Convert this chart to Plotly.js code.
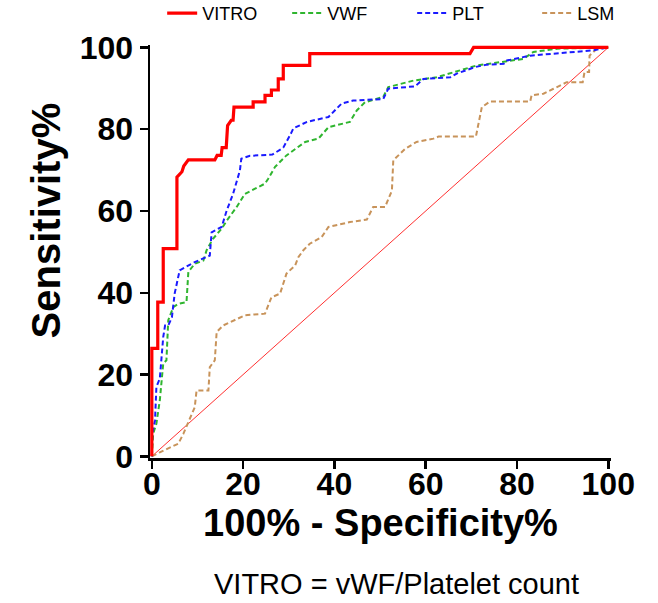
<!DOCTYPE html>
<html>
<head>
<meta charset="utf-8">
<script src="https://cdn.plot.ly/plotly-3.0.1.min.js"></script>
<style>
  html, body { margin: 0; padding: 0; background: #fff; }
  #chart { width: 658px; height: 603px; }
</style>
</head>
<body>
<div id="chart"></div>
<script>
// ROC curves: 100% - Specificity% (x) against Sensitivity% (y)
const vitroX = [0, 0, 1.3, 1.3, 2.5, 2.5, 5.5, 5.5, 6.6, 7.0, 8.0, 13.8, 14.3, 15.2, 15.4, 16.3, 16.6, 17.4, 17.8, 18.0, 22.2, 22.2, 24.8, 24.8, 26.2, 26.2, 27.7, 27.7, 28.8, 28.8, 34.6, 34.6, 69.7, 70.5, 100];
const vitroY = [0, 26.4, 26.4, 37.7, 37.7, 50.8, 50.8, 68.3, 69.6, 71.0, 72.5, 72.5, 73.6, 73.6, 75.5, 75.5, 80.9, 82.2, 82.2, 85.4, 85.4, 86.7, 86.7, 88.3, 88.3, 89.6, 89.6, 92.3, 92.3, 95.6, 95.6, 98.5, 98.5, 100, 100];

const vwfX = [0, 0.3, 1.0, 1.75, 2.5, 3.2, 3.6, 4.7, 5.8, 7.6, 8.0, 9.4, 11.3, 12.0, 13.4, 15.3, 16.7, 18.6, 20.4, 24.8, 25.5, 27.0, 29.5, 33.6, 36.5, 38.7, 43.4, 44.9, 46.7, 50.7, 51.8, 57.3, 62.4, 71.2, 81.4, 83.6, 88.8, 100];
const vwfY = [0, 5.6, 8.0, 13.7, 22.7, 23.5, 33.3, 36.5, 37.3, 37.7, 45.1, 47.1, 47.9, 50.4, 53.2, 55.7, 58.1, 61.0, 64.2, 66.7, 67.9, 70.8, 73.6, 76.9, 77.7, 80.5, 81.8, 84.6, 86.6, 87.9, 90.3, 91.9, 92.7, 95.6, 97.2, 98.9, 99.7, 100];

const pltX = [0, 0.1, 0.7, 1.0, 1.75, 2.5, 2.9, 3.6, 4.4, 5.0, 6.1, 9.4, 12.7, 13.1, 15.3, 16.4, 17.8, 19.3, 19.6, 21.5, 26.4, 28.8, 30.5, 31.0, 34.0, 38.7, 41.6, 44.1, 50.7, 51.8, 57.7, 59.5, 65.4, 66.8, 70.8, 73.4, 77.1, 77.8, 82.9, 91.7, 96.8, 100];
const pltY = [0, 5.6, 8.8, 17.0, 19.0, 29.2, 32.0, 32.0, 34.0, 39.8, 45.5, 47.5, 49.1, 54.8, 56.1, 60.1, 64.2, 69.9, 72.8, 73.5, 73.8, 75.5, 79.0, 80.2, 81.8, 83.0, 86.3, 87.0, 87.4, 89.9, 90.5, 92.3, 92.7, 93.6, 95.2, 95.8, 96.0, 96.8, 98.0, 98.9, 99.3, 100];

const lsmX = [0, 1.75, 5.8, 6.9, 9.4, 9.8, 12.4, 12.7, 13.8, 14.2, 15.6, 20.4, 24.8, 26.2, 28.1, 29.5, 31.4, 32.1, 33.2, 34.6, 37.2, 38.7, 43.4, 47.1, 48.5, 51.1, 52.6, 52.9, 55.5, 58.0, 61.7, 62.8, 71.0, 72.3, 74.1, 82.9, 83.2, 85.8, 88.0, 90.9, 94.4, 94.8, 95.8, 95.9, 97.5, 100];
const lsmY = [0, 1.0, 3.1, 5.5, 12.0, 16.1, 16.1, 21.8, 23.5, 30.4, 32.0, 34.5, 34.9, 38.9, 39.8, 44.7, 46.7, 48.7, 50.4, 52.0, 53.6, 56.1, 57.3, 57.9, 61.0, 61.0, 65.0, 72.4, 75.2, 76.9, 77.7, 78.2, 78.2, 85.4, 86.8, 86.8, 88.3, 88.7, 89.9, 91.5, 91.5, 94.0, 94.0, 98.0, 99.7, 100];

// line of no discrimination
const refX = [0, 100];
const refY = [0, 100];

const tickVals = [0, 20, 40, 60, 80, 100];

const dashed = '5px,3px';

const traces = [
  { x: refX, y: refY, mode: 'lines', showlegend: false, hoverinfo: 'skip',
    line: { color: '#ff3030', width: 1 } },
  { x: lsmX, y: lsmY, mode: 'lines', name: 'LSM', legendrank: 4,
    line: { color: '#c8935a', width: 2, dash: dashed } },
  { x: vwfX, y: vwfY, mode: 'lines', name: 'VWF', legendrank: 2,
    line: { color: '#2fb52f', width: 2, dash: dashed } },
  { x: pltX, y: pltY, mode: 'lines', name: 'PLT', legendrank: 3,
    line: { color: '#1a1aff', width: 2, dash: dashed } },
  { x: vitroX, y: vitroY, mode: 'lines', name: 'VITRO', legendrank: 1,
    line: { color: '#ff0000', width: 3.2 } }
];

const fontFamily = 'Arial, "Liberation Sans", sans-serif';
const tickFont = { family: fontFamily, size: 32, color: '#000', weight: 'bold' };

const axisCommon = {
  range: [-0.4, 100.6],
  tickvals: tickVals,
  ticktext: tickVals.map(String),
  ticks: 'outside',
  ticklen: 8,
  tickwidth: 2.5,
  tickcolor: '#000',
  showline: true,
  linecolor: '#000',
  linewidth: 2.5,
  showgrid: false,
  zeroline: false,
  layer: 'below traces',
  tickfont: tickFont,
  fixedrange: true
};

const layout = {
  width: 658,
  height: 603,
  margin: { l: 150, r: 47, t: 45, b: 145, autoexpand: false },
  paper_bgcolor: '#fff',
  plot_bgcolor: '#fff',
  xaxis: Object.assign({}, axisCommon, {
    ticklabelstandoff: -12,
    title: { text: '100% - Specificity%', font: { family: fontFamily, size: 38, color: '#000', weight: 'bold' }, standoff: 5 }
  }),
  yaxis: Object.assign({}, axisCommon, {
    title: { text: '' }
  }),
  legend: {
    orientation: 'h',
    xref: 'paper', yref: 'paper',
    x: 1.111, xanchor: 'right',
    y: 1.0765, yanchor: 'middle',
    traceorder: 'normal',
    font: { family: fontFamily, size: 18, color: '#000' },
    itemwidth: 30,
    entrywidth: 80,
    entrywidthmode: 'pixels',
    bgcolor: 'rgba(0,0,0,0)'
  },
  annotations: [
    {
      // y-axis title, centred a little above the middle of the axis
      text: 'Sensitivity%',
      xref: 'paper', yref: 'paper',
      x: (46 - 150) / 461, y: (457.6 - 220) / 413,
      xanchor: 'center', yanchor: 'middle',
      textangle: -90,
      showarrow: false,
      font: { family: fontFamily, size: 40, color: '#000', weight: 'bold' }
    },
    {
      text: 'VITRO = vWF/Platelet count',
      xref: 'paper', yref: 'paper',
      x: 0.534, y: -0.304,
      xanchor: 'center', yanchor: 'middle',
      showarrow: false,
      font: { family: fontFamily, size: 29, color: '#000' }
    }
  ]
};

Plotly.newPlot('chart', traces, layout, { staticPlot: true, displayModeBar: false });
</script>
</body>
</html>
